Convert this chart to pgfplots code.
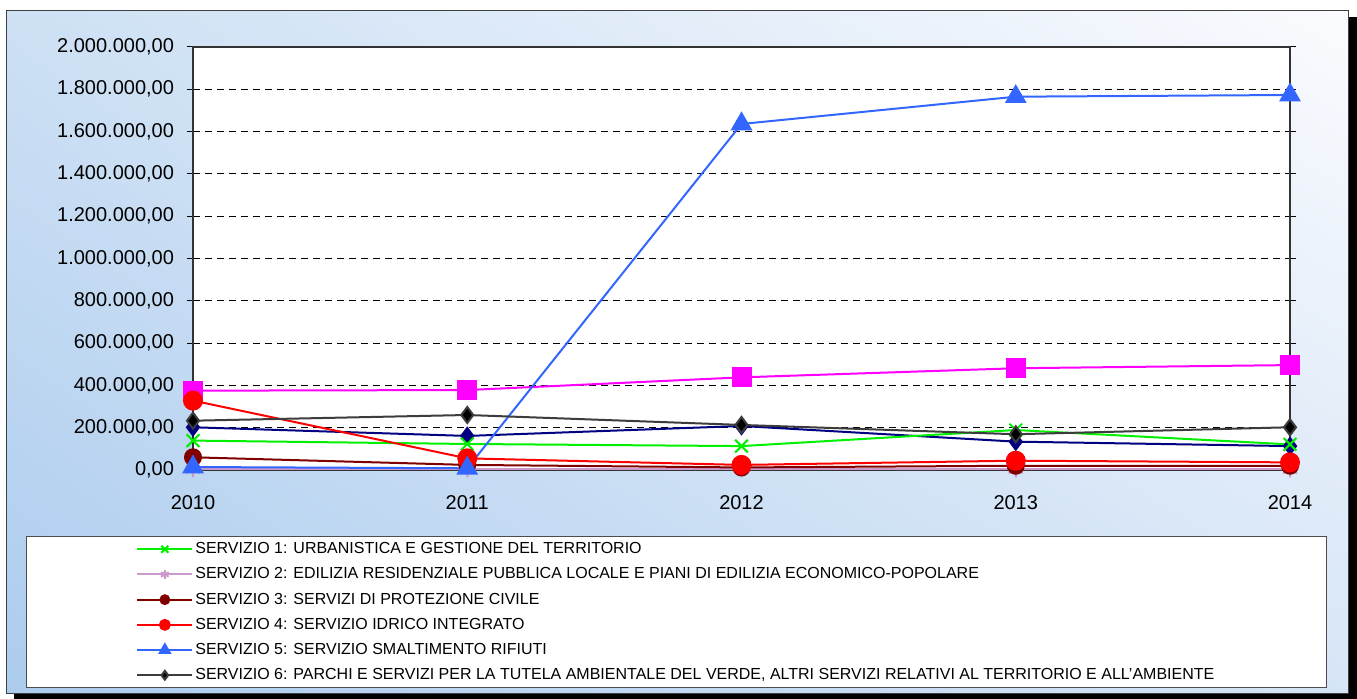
\documentclass[border=0pt]{standalone}
\usepackage{fontspec}
\setmainfont{Liberation Sans}
\usepackage{pgfplots}
\pgfplotsset{compat=1.18}
\usetikzlibrary{shadings}
\definecolor{bgLL}{RGB}{172,204,238}
\definecolor{bgUL}{RGB}{205,224,244}
\definecolor{bgLR}{RGB}{214,229,246}
\definecolor{bgUR}{RGB}{250,251,254}
\definecolor{sGreen}{RGB}{0,240,0}
\definecolor{sPink}{RGB}{204,153,204}
\definecolor{sDRed}{RGB}{128,0,0}
\definecolor{sRed}{RGB}{255,0,0}
\definecolor{sBlue}{RGB}{51,102,255}
\definecolor{sGrey}{RGB}{60,60,60}
\definecolor{sMag}{RGB}{255,0,255}
\definecolor{sNavy}{RGB}{0,0,128}
\begin{document}
\begin{tikzpicture}[x=1pt,y=1pt]
\path[use as bounding box] (0,0) rectangle (678.5,349.5);
\fill[white] (0,0) rectangle (678.5,349.5);
\fill[black] (7,0) rectangle (678.5,341);
\shade[upper left=bgUL, upper right=bgUR, lower left=bgLL, lower right=bgLR] (3,2.5) rectangle (674,344);
\draw[black!75, line width=0.5pt] (3,2.5) rectangle (674,344);
\draw[fill=white, draw=black!70, line width=0.5pt] (13,5.5) rectangle (663,81);
\begin{axis}[
  at={(96.5pt,114.5pt)}, anchor=south west,
  scale only axis, width=548.5pt, height=211.5pt,
  xmin=2010, xmax=2014, ymin=0, ymax=2000000,
  xtick={2010,2011,2012,2013,2014},
  xticklabels={2010,2011,2012,2013,2014},
  ytick={0,200000,...,2000000},
  scaled y ticks=false,
  clip=false,
  axis background/.style={fill=white},
  axis line style={draw=black!50, line width=0.7pt},
  y axis line style={draw=black!80},
  ymajorgrids, grid style={black, line width=0.5pt, dash pattern=on 3.5pt off 2.5pt},
  tick style={black, line width=0.5pt},
  tick align=outside, major tick length=3pt,
  xtick style={draw=none},
  ticklabel style={font=\fontsize{10}{12}\selectfont},
  /pgf/number format/fixed, /pgf/number format/fixed zerofill, /pgf/number format/precision=2,
  /pgf/number format/use comma, /pgf/number format/1000 sep={.}, /pgf/number format/assume math mode=true,
  yticklabel style={xshift=-3pt},
  xticklabel style={yshift=-6pt},
  legend style={at={(-0.052,-0.164)}, anchor=north west, draw=none, fill=none,
    font=\fontsize{8}{10}\selectfont, row sep=3.1pt, inner sep=0pt,
    nodes={inner sep=1pt, text height=6pt, text depth=1.5pt}},
  legend cell align=left,
  legend image code/.code={\draw[mark repeat=2, mark phase=2, #1, every mark/.append style={scale=0.55}] plot coordinates {(0pt,0pt) (13.75pt,0pt) (27.5pt,0pt)};},
]
\addplot[forget plot, color=sMag, line width=1pt, mark=square*, mark size=4.5pt, mark options={solid, fill=sMag, draw=sMag}] coordinates {(2010,375000) (2011,378000) (2012,438000) (2013,481000) (2014,496000)};
\addplot[forget plot, color=sNavy, line width=1pt, mark=diamond*, mark size=4pt, mark options={solid, fill=sNavy, draw=sNavy}] coordinates {(2010,202000) (2011,161000) (2012,208000) (2013,134000) (2014,113000)};
\addplot[color=sGreen, line width=1pt, mark=x, mark size=4.5pt, mark options={solid, line width=1pt}] coordinates {(2010,139000) (2011,123000) (2012,113000) (2013,189000) (2014,121000)};
\addlegendentry{SERVIZIO 1: URBANISTICA E GESTIONE DEL TERRITORIO}
\addplot[color=sPink, line width=1pt, mark=asterisk, mark size=4pt, mark options={solid, line width=1pt}] coordinates {(2010,3000) (2011,3000) (2012,3000) (2013,3000) (2014,3000)};
\addlegendentry{SERVIZIO 2: EDILIZIA RESIDENZIALE PUBBLICA LOCALE E PIANI DI EDILIZIA ECONOMICO-POPOLARE}
\addplot[color=sDRed, line width=1pt, mark=*, mark size=4pt, mark options={solid, fill=sDRed, draw=sDRed}] coordinates {(2010,60000) (2011,24000) (2012,12000) (2013,20000) (2014,20000)};
\addlegendentry{SERVIZIO 3: SERVIZI DI PROTEZIONE CIVILE}
\addplot[color=sRed, line width=1pt, mark=*, mark size=4.5pt, mark options={solid, fill=sRed, draw=sRed}] coordinates {(2010,328000) (2011,55000) (2012,24000) (2013,44000) (2014,36000)};
\addlegendentry{SERVIZIO 4: SERVIZIO IDRICO INTEGRATO}
\addplot[color=sBlue, line width=1pt, mark=triangle*, mark size=5.3pt, mark options={solid, fill=sBlue, draw=sBlue}] coordinates {(2010,14000) (2011,8000) (2012,1636000) (2013,1765000) (2014,1773000)};
\addlegendentry{SERVIZIO 5: SERVIZIO SMALTIMENTO RIFIUTI}
\addplot[color=sGrey, line width=1pt, mark=diamond*, mark size=4pt, mark options={solid, fill=black, draw=sGrey, line width=1pt}] coordinates {(2010,233000) (2011,260000) (2012,213000) (2013,169000) (2014,202000)};
\addlegendentry{SERVIZIO 6: PARCHI E SERVIZI PER LA TUTELA AMBIENTALE DEL VERDE, ALTRI SERVIZI RELATIVI AL TERRITORIO E ALL'AMBIENTE}
\end{axis}
\end{tikzpicture}
\end{document}
